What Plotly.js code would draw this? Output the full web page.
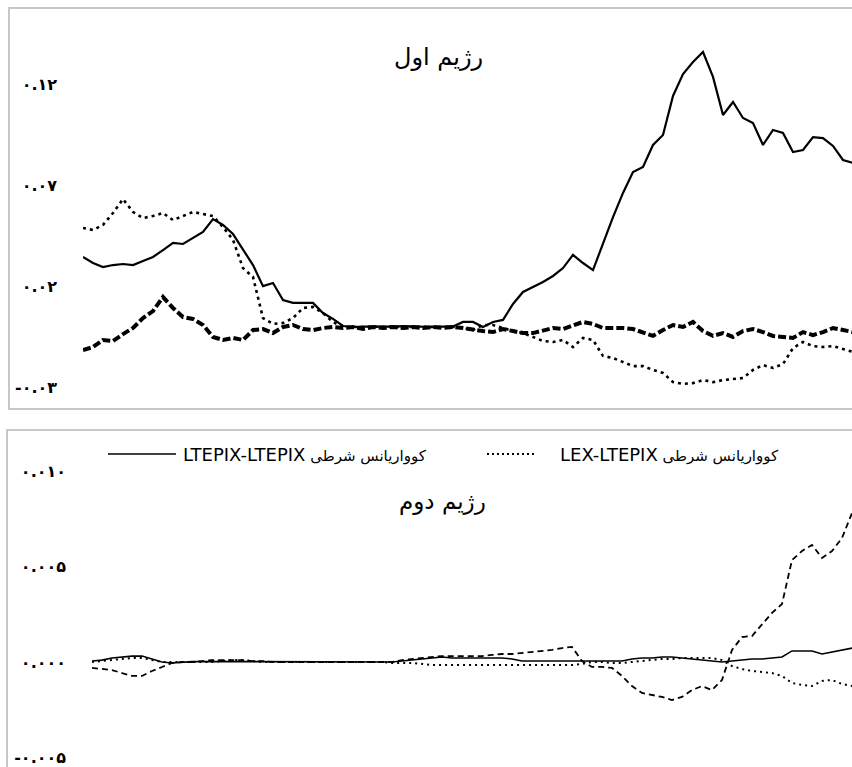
<!DOCTYPE html>
<html>
<head>
<meta charset="utf-8">
<script src="https://cdn.plot.ly/plotly-3.0.1.min.js"></script>
<style>
html,body{margin:0;padding:0;background:#fff;overflow:hidden;}
#chart{width:852px;height:767px;}
</style>
</head>
<body>
<div id="chart"></div>
<script>
// ---- Regime 1 (top panel) ----
const topTitle = "رژیم اول";
const topTickVals = [-0.03, 0.02, 0.07, 0.12];
const topTickText = ["-۰.۰۳", "۰.۰۲", "۰.۰۷", "۰.۱۲"];
const topSolid = [0.0346,0.0316,0.0296,0.0306,0.0311,0.0306,0.0326,0.0346,0.0380,0.0415,
  0.0410,0.0440,0.0469,0.0533,0.0504,0.0459,0.0385,0.0306,0.0202,0.0217,
  0.0133,0.0119,0.0119,0.0119,0.0069,0.0040,0.0005,0.0000,
  0.0002,0.0001,0.0003,0.0002,0.0004,0.0002,0.0001,0.0000,0.0002,0.0003,
  0.0025,0.0025,0.0000,0.0025,0.0035,0.0114,0.0173,0.0198,0.0222,0.0252,
  0.0291,0.0356,0.0316,0.0281,0.0415,0.0543,0.0662,0.0765,0.0790,0.0899,
  0.0948,0.1141,0.1249,0.1309,0.1358,0.1235,0.1047,0.1111,0.1032,0.1007,
  0.0899,0.0973,0.0958,0.0864,0.0874,0.0938,0.0933,0.0894,0.0825,0.0810];
const topDotted = [0.0489,0.0479,0.0504,0.0563,0.0632,0.0568,0.0538,0.0548,0.0563,0.0528,
  0.0548,0.0568,0.0558,0.0548,0.0494,0.0430,0.0291,0.0247,0.0044,0.0015,
  0.0020,0.0044,0.0094,0.0099,0.0069,0.0025,0.0000,
  -0.0001,0.0000,0.0001,0.0000,-0.0001,0.0001,0.0000,0.0001,-0.0001,0.0000,0.0001,
  -0.0005,-0.0015,0.0010,0.0010,-0.0005,-0.0020,-0.0030,-0.0049,-0.0069,-0.0074,
  -0.0064,-0.0099,-0.0054,-0.0064,-0.0143,-0.0153,-0.0173,-0.0193,-0.0193,-0.0212,
  -0.0227,-0.0272,-0.0281,-0.0277,-0.0262,-0.0272,-0.0262,-0.0257,-0.0252,-0.0212,
  -0.0188,-0.0202,-0.0183,-0.0104,-0.0074,-0.0094,-0.0099,-0.0094,-0.0109,-0.0123];
const topDashed = [-0.0114,-0.0099,-0.0064,-0.0069,-0.0035,-0.0005,0.0044,0.0079,0.0148,0.0094,
  0.0049,0.0040,0.0010,-0.0049,-0.0064,-0.0054,-0.0064,-0.0015,-0.0010,-0.0030,
  0.0000,0.0010,-0.0010,-0.0015,-0.0005,0.0000,
  -0.0005,0.0000,-0.0010,0.0000,-0.0005,0.0000,-0.0005,0.0000,-0.0005,0.0000,-0.0005,
  0.0000,-0.0005,-0.0015,-0.0020,-0.0025,-0.0010,-0.0020,-0.0030,-0.0030,-0.0015,
  -0.0005,-0.0010,0.0005,0.0025,0.0015,-0.0005,-0.0005,-0.0005,-0.0010,-0.0025,
  -0.0044,-0.0015,0.0010,0.0000,0.0025,-0.0020,-0.0044,-0.0030,-0.0049,-0.0020,
  -0.0010,-0.0025,-0.0044,-0.0049,-0.0054,-0.0025,-0.0040,-0.0025,-0.0005,-0.0015,-0.0025];

// ---- Regime 2 (bottom panel) ----
const botTitle = "رژیم دوم";
const botTickVals = [-0.005, 0, 0.005, 0.010];
const botTickText = ["-۰.۰۰۵", "۰.۰۰۰", "۰.۰۰۵", "۰.۰۱۰"];
const legendCodes = ["LTEPIX-LTEPIX", "LEX-LTEPIX"];
const legendWord = "کوواریانس شرطی";
const botSolid = [0.00005,0.00010,0.00021,0.00026,0.00031,0.00031,0.00016,0.00000,-0.00005,
  0.00000,0.00002,0.00003,0.00003,0.00002,0.00000,0.00000,0.00001,0.00000,0.00000,0.00000,
  0.00000,0.00000,0.00000,0.00000,0.00000,0.00001,0.00002,0.00002,0.00003,0.00003,
  0.00000,0.00005,0.00010,0.00016,0.00021,0.00026,0.00021,0.00021,0.00021,0.00021,0.00021,0.00021,0.00016,
  0.00005,0.00005,0.00005,0.00005,0.00005,0.00005,0.00005,0.00005,0.00005,0.00005,0.00005,
  0.00016,0.00021,0.00021,0.00026,0.00026,0.00021,0.00016,0.00010,0.00005,0.00000,
  0.00005,0.00010,0.00016,0.00016,0.00021,0.00026,0.00058,0.00058,0.00058,0.00042,0.00052,0.00063,0.00073];
const botDotted = [0.00000,0.00005,0.00010,0.00016,0.00021,0.00021,0.00010,0.00000,0.00000,
  0.00000,0.00000,0.00000,0.00000,
  0.00005,0.00010,0.00010,0.00005,0.00000,
  0.00000,0.00000,0.00000,0.00000,0.00000,0.00000,0.00000,0.00000,0.00000,0.00000,0.00000,0.00000,
  -0.00005,-0.00005,-0.00005,-0.00010,
  -0.00016,-0.00016,-0.00016,-0.00016,-0.00016,-0.00016,-0.00016,-0.00016,-0.00016,-0.00016,-0.00016,-0.00016,-0.00016,-0.00016,-0.00016,
  -0.00010,0.00000,0.00000,-0.00005,-0.00005,0.00000,0.00005,0.00010,0.00016,0.00016,0.00021,0.00021,0.00021,0.00021,0.00010,
  -0.00021,-0.00037,-0.00047,-0.00052,-0.00058,-0.00073,-0.00110,-0.00120,-0.00126,-0.00099,-0.00094,-0.00115,-0.00126];
const botDashed = [-0.00031,-0.00037,-0.00042,-0.00058,-0.00073,-0.00073,-0.00047,-0.00026,-0.00005,
  0.00000,0.00000,0.00005,0.00010,0.00010,0.00010,0.00010,0.00005,0.00005,
  0.00000,0.00000,0.00000,0.00000,0.00000,0.00000,0.00000,0.00000,0.00000,0.00000,0.00000,0.00000,0.00000,
  0.00010,0.00016,0.00021,0.00026,0.00031,0.00031,0.00031,0.00031,0.00031,0.00037,0.00042,0.00042,0.00047,0.00052,0.00058,0.00063,0.00073,0.00079,
  0.00005,-0.00026,-0.00026,-0.00031,-0.00073,-0.00126,-0.00162,-0.00173,-0.00183,-0.00199,-0.00183,-0.00147,-0.00126,-0.00147,-0.00094,
  0.00063,0.00131,0.00136,0.00194,0.00257,0.00304,0.00534,0.00581,0.00613,0.00545,0.00581,0.00649,0.00780];

const topT = topSolid.map((_, i) => i);
const botT = botSolid.map((_, i) => i);

const W = 852, H = 767;
const px = v => v / W;
const py = v => 1 - v / H;

const traces = [
  {x: topT, y: topSolid, xaxis: 'x', yaxis: 'y', mode: 'lines', line: {color: '#000', width: 2.2}, showlegend: false},
  {x: topT, y: topDotted, xaxis: 'x', yaxis: 'y', mode: 'lines', line: {color: '#000', width: 2.6, dash: '3px,4px'}, showlegend: false},
  {x: topT, y: topDashed, xaxis: 'x', yaxis: 'y', mode: 'lines', line: {color: '#000', width: 4, dash: '8px,3px'}, showlegend: false},
  {x: botT, y: botSolid, xaxis: 'x2', yaxis: 'y2', mode: 'lines', line: {color: '#000', width: 1.6}, showlegend: false},
  {x: botT, y: botDotted, xaxis: 'x2', yaxis: 'y2', mode: 'lines', line: {color: '#000', width: 2, dash: '2px,4px'}, showlegend: false},
  {x: botT, y: botDashed, xaxis: 'x2', yaxis: 'y2', mode: 'lines', line: {color: '#000', width: 1.8, dash: '6px,4px'}, showlegend: false}
];

const tickFont = {family: 'DejaVu Sans', size: 16, color: '#000', weight: 'bold'};

function legendText(code) {
  return '<span style="font-size:18px">' + code + '</span> ' + legendWord;
}

const layout = {
  width: W, height: H,
  margin: {l: 0, r: 0, t: 0, b: 0},
  paper_bgcolor: '#fff', plot_bgcolor: 'rgba(0,0,0,0)',
  showlegend: false,
  xaxis: {domain: [px(83), 1], range: [0, 76.9], visible: false, anchor: 'y'},
  yaxis: {domain: [py(409), py(8)], range: [-0.04049, 0.15753], anchor: 'x',
    tickvals: topTickVals, ticktext: topTickText, showgrid: false, zeroline: false,
    showline: false, ticks: '', ticklabelstandoff: 25, ticklabeloverflow: 'allow', tickfont: tickFont},
  xaxis2: {domain: [px(92), 1], range: [0, 76], visible: false, anchor: 'y2'},
  yaxis2: {domain: [0, py(430)], range: [-0.005497, 0.012147], anchor: 'x2',
    tickvals: botTickVals, ticktext: botTickText, showgrid: false, zeroline: false,
    showline: false, ticks: '', ticklabelstandoff: 25, ticklabeloverflow: 'allow', tickfont: tickFont},
  shapes: [
    {type: 'rect', xref: 'paper', yref: 'paper', x0: px(9), x1: 1.02, y0: py(409), y1: py(8),
      line: {color: '#c8c8c8', width: 2}, fillcolor: 'rgba(0,0,0,0)', layer: 'below'},
    {type: 'rect', xref: 'paper', yref: 'paper', x0: px(7), x1: 1.02, y0: -0.02, y1: py(430),
      line: {color: '#c8c8c8', width: 2}, fillcolor: 'rgba(0,0,0,0)', layer: 'below'},
    {type: 'line', xref: 'paper', yref: 'paper', x0: px(108), x1: px(176), y0: py(454), y1: py(454),
      line: {color: '#000', width: 1.6}},
    {type: 'line', xref: 'paper', yref: 'paper', x0: px(487), x1: px(534), y0: py(454), y1: py(454),
      line: {color: '#000', width: 2, dash: '2px,3px'}}
  ],
  annotations: [
    {text: topTitle, xref: 'paper', yref: 'paper', x: px(438), y: py(57), showarrow: false,
      xanchor: 'center', yanchor: 'middle', font: {family: 'DejaVu Sans', size: 24, color: '#000'}},
    {text: botTitle, xref: 'paper', yref: 'paper', x: px(442), y: py(501), showarrow: false,
      xanchor: 'center', yanchor: 'middle', font: {family: 'DejaVu Sans', size: 23, color: '#000'}},
    {text: legendText(legendCodes[0]), xref: 'paper', yref: 'paper', x: px(181), y: py(454), showarrow: false,
      xanchor: 'left', yanchor: 'middle', font: {family: 'DejaVu Sans', size: 15, color: '#000'}},
    {text: legendText(legendCodes[1]), xref: 'paper', yref: 'paper', x: px(558), y: py(454), showarrow: false,
      xanchor: 'left', yanchor: 'middle', font: {family: 'DejaVu Sans', size: 15, color: '#000'}}
  ]
};

Plotly.newPlot('chart', traces, layout, {displayModeBar: false, staticPlot: true});
</script>
</body>
</html>
